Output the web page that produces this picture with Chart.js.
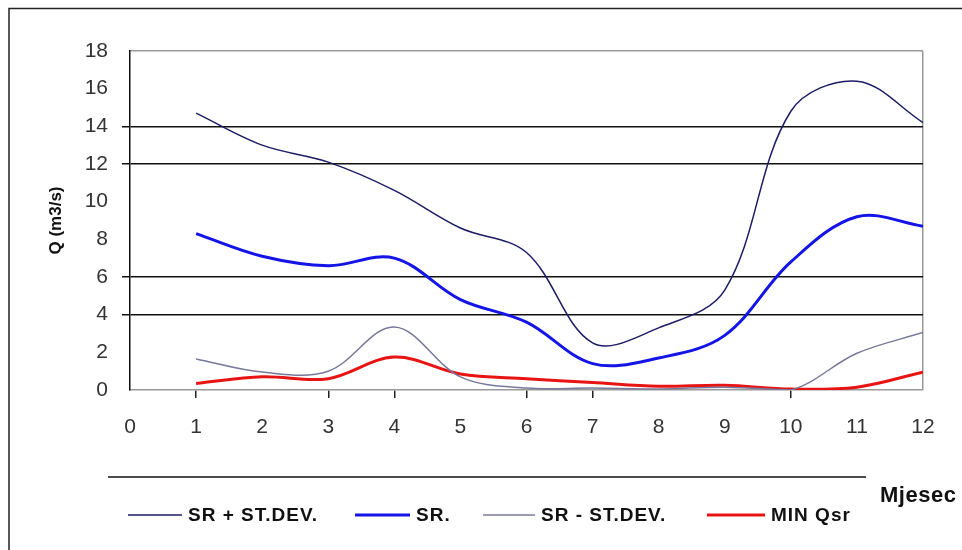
<!DOCTYPE html>
<html>
<head>
<meta charset="utf-8">
<script src="https://cdn.jsdelivr.net/npm/chart.js@4"></script>
<style>
  html, body { margin: 0; padding: 0; background: #fff; }
  #wrap { width: 962px; height: 550px; }
</style>
</head>
<body>
<div id="wrap"><canvas id="chart" width="962" height="550"></canvas></div>
<script>
const months = [1, 2, 3, 4, 5, 6, 7, 8, 9, 10, 11, 12]
const srPlus = [14.7, 13.0, 12.1, 10.6, 8.6, 7.3, 2.5, 3.3, 5.3, 14.8, 16.4, 14.2]
const sr = [8.3, 7.1, 6.6, 7.0, 4.8, 3.6, 1.4, 1.7, 2.9, 6.8, 9.2, 8.7]
const srMinus = [1.65, 0.95, 1.0, 3.35, 0.7, 0.1, 0.1, 0.05, 0.15, 0.0, 1.95, 3.05]
const minQ = [0.35, 0.7, 0.6, 1.75, 0.85, 0.6, 0.4, 0.2, 0.25, 0.05, 0.15, 0.95]

const xTicks = [0, 1, 2, 3, 4, 5, 6, 7, 8, 9, 10, 11, 12]
const yTicks = [0, 2, 4, 6, 8, 10, 12, 14, 16, 18]
const yLines = [4, 6, 12, 14]
const xMarks = [1, 3, 4, 6, 7, 10]

const seriesNames = ['SR + ST.DEV.', 'SR.', 'SR - ST.DEV.', 'MIN Qsr']
const seriesColors = ['#1c1c66', '#1414e6', '#78789a', '#e81414']
const seriesWidths = [1.5, 3, 1.5, 3]

const toPoints = (vals) => vals.map((v, i) => ({ x: months[i], y: v }))

const font = "'Liberation Sans', Arial, sans-serif"

// frame, separator line, legend and the "Mjesec" label
const decorations = {
  id: 'decorations',
  afterDraw(chart) {
    const ctx = chart.ctx
    ctx.save()
    ctx.strokeStyle = '#222'
    ctx.lineWidth = 1.5
    ctx.beginPath()
    ctx.moveTo(9, 550)
    ctx.lineTo(9, 8.5)
    ctx.lineTo(962, 8.5)
    ctx.stroke()

    ctx.strokeStyle = '#111'
    ctx.beginPath()
    ctx.moveTo(108, 477)
    ctx.lineTo(866, 477)
    ctx.stroke()

    const samples = [[128, 182], [355, 410], [483, 535], [707, 765]]
    ctx.font = 'bold 19px ' + font
    ctx.letterSpacing = '1px'
    ctx.textBaseline = 'middle'
    ctx.fillStyle = '#111'
    chart.data.datasets.forEach((ds, i) => {
      const [a, b] = samples[i]
      ctx.strokeStyle = ds.borderColor
      ctx.lineWidth = ds.borderWidth
      ctx.beginPath()
      ctx.moveTo(a, 515)
      ctx.lineTo(b, 515)
      ctx.stroke()
      ctx.fillText(ds.label, b + 6, 516)
    })

    ctx.letterSpacing = '0.5px'
    ctx.font = 'bold 22px ' + font
    ctx.fillText('Mjesec', 880, 496)
    ctx.restore()
  }
}

new Chart(document.getElementById('chart'), {
  type: 'line',
  data: {
    datasets: seriesNames.map((name, i) => ({
      label: name,
      data: toPoints([srPlus, sr, srMinus, minQ][i]),
      borderColor: seriesColors[i],
      borderWidth: seriesWidths[i],
      pointRadius: 0,
      tension: 0.35,
      fill: false,
    })),
  },
  options: {
    responsive: false,
    animation: false,
    layout: { padding: { left: 0, top: 51, right: 39, bottom: 0 } },
    plugins: { legend: { display: false }, tooltip: { enabled: false } },
    scales: {
      x: {
        type: 'linear',
        min: 0,
        max: 12,
        afterFit: (scale) => { scale.height = 160 },
        afterBuildTicks: (scale) => { scale.ticks = xTicks.map((v) => ({ value: v })) },
        border: { color: '#999', width: 1.5 },
        grid: {
          color: (c) => (c.tick && c.tick.value === 12 ? '#999' : 'rgba(0,0,0,0)'),
          tickColor: (c) => (c.tick && xMarks.includes(c.tick.value) ? '#222' : 'rgba(0,0,0,0)'),
          tickLength: 8,
          lineWidth: 1.5,
        },
        ticks: { color: '#333', padding: 17, maxRotation: 0, font: { family: font, size: 21 } },
      },
      y: {
        min: 0,
        max: 18,
        afterFit: (scale) => { scale.width = 130 },
        afterBuildTicks: (scale) => { scale.ticks = yTicks.map((v) => ({ value: v })) },
        border: { color: '#111', width: 1.5 },
        grid: {
          color: (c) => {
            if (!c.tick) return 'rgba(0,0,0,0)'
            if (yLines.includes(c.tick.value)) return '#111'
            if (c.tick.value === 18) return '#999'
            return 'rgba(0,0,0,0)'
          },
          tickColor: (c) => (c.tick && yLines.includes(c.tick.value) ? '#111' : 'rgba(0,0,0,0)'),
          tickLength: 8,
          lineWidth: 1.5,
        },
        ticks: { color: '#333', padding: 14, font: { family: font, size: 21 } },
        title: {
          display: true,
          text: 'Q (m3/s)',
          color: '#111',
          font: { family: font, size: 17, weight: 'bold' },
          padding: { top: 46, bottom: 0 },
        },
      },
    },
  },
  plugins: [decorations],
})
</script>
</body>
</html>
